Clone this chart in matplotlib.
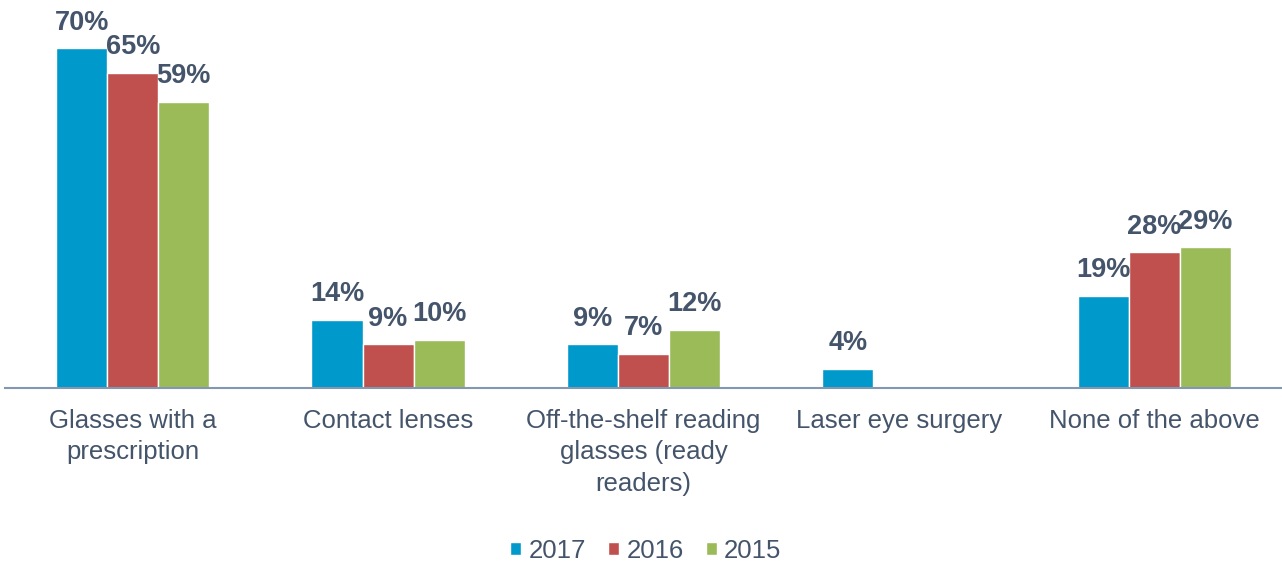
import matplotlib.pyplot as plt
import numpy as np

plt.rcParams['font.family'] = ['Liberation Sans', 'DejaVu Sans']

categories = ['Glasses with a\nprescription', 'Contact lenses',
              'Off-the-shelf reading\nglasses (ready\nreaders)',
              'Laser eye surgery', 'None of the above']
v2017 = [70, 14, 9, 4, 19]
v2016 = [65, 9, 7, np.nan, 28]
v2015 = [59, 10, 12, np.nan, 29]
years = ['2017', '2016', '2015']
colors = ['#0099CC', '#C0504D', '#9BBB59']
txt = '#44546A'

fig = plt.figure(figsize=(12.82, 5.67), dpi=100)
ax = fig.add_axes([5 / 1282, 1 - 388 / 567, 1277 / 1282, 388 / 567])

x = np.arange(len(categories))
w = 0.2
for i, (vals, yr, c) in enumerate(zip([v2017, v2016, v2015], years, colors)):
    pos = x + (i - 1) * w
    ax.bar(pos, vals, w, color=c, edgecolor='white', linewidth=1, label=yr)
    for p, v in zip(pos, vals):
        if not np.isnan(v):
            ax.text(p, v + 2.6, f'{v:.0f}%', ha='center', va='bottom',
                    fontsize=19.5, fontweight='bold', color=txt)

ax.set_xlim(-0.5, len(categories) - 0.5)
ax.set_ylim(0, 80)
ax.set_yticks([])
ax.set_xticks(x)
ax.set_xticklabels(categories, fontsize=18.5, color=txt, linespacing=1.4, va='top')
ax.tick_params(axis='x', length=0, pad=15)
for s in ['top', 'right', 'left']:
    ax.spines[s].set_visible(False)
ax.spines['bottom'].set_color('#8497B0')
ax.spines['bottom'].set_linewidth(1.5)

leg = fig.legend(loc='center', bbox_to_anchor=(646 / 1282, 1 - 551 / 567), ncol=3,
                 frameon=False, fontsize=18.5, handlelength=0.42, handleheight=0.42,
                 handletextpad=0.3, columnspacing=0.85)
for t in leg.get_texts():
    t.set_color(txt)

plt.savefig('out.png', dpi=100)
